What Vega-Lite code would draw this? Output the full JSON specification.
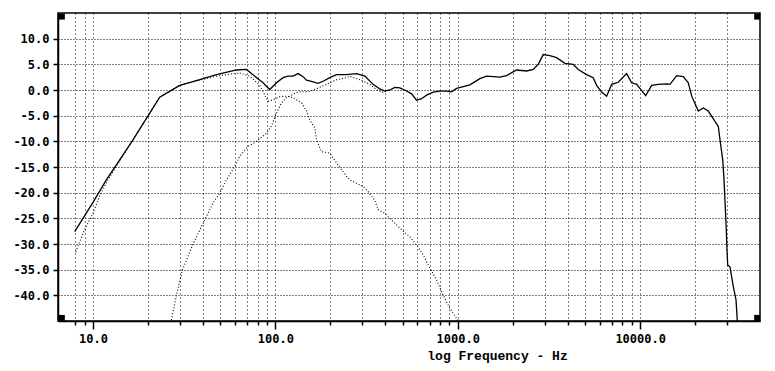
{
  "$schema": "https://vega.github.io/schema/vega-lite/v6.json",
  "width": 702,
  "height": 308,
  "autosize": {"type": "none"},
  "padding": {"left": 58, "top": 13, "right": 15, "bottom": 50},
  "background": "white",
  "config": {
    "view": {"stroke": "black", "strokeWidth": 1.5},
    "axis": {
      "domainColor": "black", "domainWidth": 1.5,
      "tickColor": "black", "tickWidth": 1.5,
      "gridColor": "black", "gridWidth": 1, "gridOpacity": 1,
      "labelColor": "black", "labelFont": "DejaVu Sans Mono", "labelFontWeight": "bold", "labelFontSize": 12,
      "titleColor": "black"
    }
  },
  "datasets": {
    "curves": [
      {"s": "total", "f": 7.94, "db": -27.6},
      {"s": "total", "f": 10, "db": -21.9},
      {"s": "total", "f": 11.84, "db": -17.5},
      {"s": "total", "f": 16.57, "db": -9.7},
      {"s": "total", "f": 23.22, "db": -1.4},
      {"s": "total", "f": 29.89, "db": 0.9},
      {"s": "total", "f": 38.48, "db": 2.0},
      {"s": "total", "f": 47.53, "db": 3.0},
      {"s": "total", "f": 61.18, "db": 3.9},
      {"s": "total", "f": 69.4, "db": 4.0},
      {"s": "total", "f": 77.1, "db": 2.7},
      {"s": "total", "f": 85.6, "db": 1.4},
      {"s": "total", "f": 93.2, "db": 0.1},
      {"s": "total", "f": 101.4, "db": 1.4},
      {"s": "total", "f": 110.2, "db": 2.4},
      {"s": "total", "f": 117.4, "db": 2.7},
      {"s": "total", "f": 125.1, "db": 2.7},
      {"s": "total", "f": 133.2, "db": 3.2},
      {"s": "total", "f": 141.9, "db": 2.6},
      {"s": "total", "f": 148.1, "db": 1.9},
      {"s": "total", "f": 157.8, "db": 1.7},
      {"s": "total", "f": 171.5, "db": 1.3},
      {"s": "total", "f": 182.7, "db": 1.7},
      {"s": "total", "f": 198.8, "db": 2.4},
      {"s": "total", "f": 216.4, "db": 3.0},
      {"s": "total", "f": 245.5, "db": 3.0},
      {"s": "total", "f": 278.5, "db": 3.2},
      {"s": "total", "f": 309.4, "db": 2.7},
      {"s": "total", "f": 343.5, "db": 1.1},
      {"s": "total", "f": 373.9, "db": 0.2},
      {"s": "total", "f": 398.2, "db": -0.2},
      {"s": "total", "f": 424.2, "db": 0.0},
      {"s": "total", "f": 451.9, "db": 0.5},
      {"s": "total", "f": 481.4, "db": 0.4},
      {"s": "total", "f": 524, "db": -0.2},
      {"s": "total", "f": 558, "db": -0.75},
      {"s": "total", "f": 594.3, "db": -2.0},
      {"s": "total", "f": 633, "db": -1.7},
      {"s": "total", "f": 674.5, "db": -1.0},
      {"s": "total", "f": 733, "db": -0.4},
      {"s": "total", "f": 797.6, "db": -0.2},
      {"s": "total", "f": 868, "db": -0.2},
      {"s": "total", "f": 924.7, "db": -0.35},
      {"s": "total", "f": 985, "db": 0.3},
      {"s": "total", "f": 1165, "db": 1.0},
      {"s": "total", "f": 1322, "db": 2.2},
      {"s": "total", "f": 1439, "db": 2.7},
      {"s": "total", "f": 1702, "db": 2.5},
      {"s": "total", "f": 1852, "db": 2.8},
      {"s": "total", "f": 2102, "db": 3.9},
      {"s": "total", "f": 2385, "db": 3.7},
      {"s": "total", "f": 2592, "db": 4.0},
      {"s": "total", "f": 2761, "db": 5.0},
      {"s": "total", "f": 2942, "db": 6.9},
      {"s": "total", "f": 3201, "db": 6.7},
      {"s": "total", "f": 3483, "db": 6.3},
      {"s": "total", "f": 3868, "db": 5.2},
      {"s": "total", "f": 4295, "db": 5.0},
      {"s": "total", "f": 4575, "db": 4.0},
      {"s": "total", "f": 5088, "db": 3.0},
      {"s": "total", "f": 5529, "db": 2.4},
      {"s": "total", "f": 5772, "db": 0.9},
      {"s": "total", "f": 6148, "db": -0.4},
      {"s": "total", "f": 6550, "db": -1.2},
      {"s": "total", "f": 6978, "db": 1.1},
      {"s": "total", "f": 7585, "db": 1.5},
      {"s": "total", "f": 8433, "db": 3.2},
      {"s": "total", "f": 8982, "db": 1.4},
      {"s": "total", "f": 9568, "db": 1.1},
      {"s": "total", "f": 10720, "db": -1.1},
      {"s": "total", "f": 11565, "db": 0.9},
      {"s": "total", "f": 12570, "db": 1.1},
      {"s": "total", "f": 13975, "db": 1.2},
      {"s": "total", "f": 14570, "db": 1.1},
      {"s": "total", "f": 15860, "db": 2.8},
      {"s": "total", "f": 17240, "db": 2.6},
      {"s": "total", "f": 18360, "db": 1.4},
      {"s": "total", "f": 19170, "db": -1.2},
      {"s": "total", "f": 20830, "db": -4.1},
      {"s": "total", "f": 22190, "db": -3.5},
      {"s": "total", "f": 23630, "db": -4.1},
      {"s": "total", "f": 26820, "db": -7.1},
      {"s": "total", "f": 27400, "db": -9.7},
      {"s": "total", "f": 28360, "db": -13.6},
      {"s": "total", "f": 28830, "db": -17.5},
      {"s": "total", "f": 29560, "db": -25.9},
      {"s": "total", "f": 29930, "db": -31.2},
      {"s": "total", "f": 30200, "db": -34.1},
      {"s": "total", "f": 31090, "db": -34.5},
      {"s": "total", "f": 32410, "db": -38.3},
      {"s": "total", "f": 33540, "db": -40.9},
      {"s": "total", "f": 34100, "db": -45.0},

      {"s": "lp", "f": 8.04, "db": -31.5},
      {"s": "lp", "f": 9.0, "db": -27.2},
      {"s": "lp", "f": 10, "db": -24.0},
      {"s": "lp", "f": 10.88, "db": -20.7},
      {"s": "lp", "f": 12.08, "db": -17.5},
      {"s": "lp", "f": 16.57, "db": -9.7},
      {"s": "lp", "f": 23.22, "db": -1.4},
      {"s": "lp", "f": 29.89, "db": 0.9},
      {"s": "lp", "f": 38.48, "db": 1.9},
      {"s": "lp", "f": 47.53, "db": 2.7},
      {"s": "lp", "f": 58.6, "db": 3.2},
      {"s": "lp", "f": 63.8, "db": 3.3},
      {"s": "lp", "f": 72.4, "db": 2.7},
      {"s": "lp", "f": 82.1, "db": 0.9},
      {"s": "lp", "f": 91.2, "db": -2.2},
      {"s": "lp", "f": 97.1, "db": -1.9},
      {"s": "lp", "f": 105.7, "db": -1.3},
      {"s": "lp", "f": 115.1, "db": -1.2},
      {"s": "lp", "f": 125.1, "db": -1.5},
      {"s": "lp", "f": 139.1, "db": -2.5},
      {"s": "lp", "f": 148.1, "db": -4.1},
      {"s": "lp", "f": 154.4, "db": -5.8},
      {"s": "lp", "f": 164.5, "db": -7.4},
      {"s": "lp", "f": 168.1, "db": -9.7},
      {"s": "lp", "f": 179.0, "db": -12.0},
      {"s": "lp", "f": 198.8, "db": -12.3},
      {"s": "lp", "f": 216.4, "db": -14.2},
      {"s": "lp", "f": 245.5, "db": -16.8},
      {"s": "lp", "f": 255.9, "db": -17.5},
      {"s": "lp", "f": 302.8, "db": -18.8},
      {"s": "lp", "f": 322.5, "db": -19.8},
      {"s": "lp", "f": 351.1, "db": -21.5},
      {"s": "lp", "f": 365.9, "db": -23.3},
      {"s": "lp", "f": 398.2, "db": -24.0},
      {"s": "lp", "f": 424.2, "db": -25.0},
      {"s": "lp", "f": 481.4, "db": -26.9},
      {"s": "lp", "f": 546, "db": -28.6},
      {"s": "lp", "f": 594.3, "db": -30.2},
      {"s": "lp", "f": 646, "db": -32.1},
      {"s": "lp", "f": 703, "db": -34.7},
      {"s": "lp", "f": 765, "db": -37.0},
      {"s": "lp", "f": 832, "db": -40.0},
      {"s": "lp", "f": 905, "db": -42.5},
      {"s": "lp", "f": 985, "db": -44.5},
      {"s": "lp", "f": 1010, "db": -45.0},

      {"s": "hp", "f": 26.9, "db": -44.8},
      {"s": "hp", "f": 28.67, "db": -40.0},
      {"s": "hp", "f": 30.93, "db": -35.1},
      {"s": "hp", "f": 35.37, "db": -30.0},
      {"s": "hp", "f": 41.0, "db": -25.3},
      {"s": "hp", "f": 45.5, "db": -22.0},
      {"s": "hp", "f": 49.5, "db": -20.1},
      {"s": "hp", "f": 53.9, "db": -17.5},
      {"s": "hp", "f": 59.9, "db": -14.9},
      {"s": "hp", "f": 63.8, "db": -12.9},
      {"s": "hp", "f": 70.8, "db": -11.0},
      {"s": "hp", "f": 78.8, "db": -10.0},
      {"s": "hp", "f": 89.4, "db": -8.4},
      {"s": "hp", "f": 95.2, "db": -7.0},
      {"s": "hp", "f": 101.4, "db": -4.5},
      {"s": "hp", "f": 108.0, "db": -2.5},
      {"s": "hp", "f": 115.1, "db": -1.5},
      {"s": "hp", "f": 122.6, "db": -1.0},
      {"s": "hp", "f": 130.5, "db": -0.5},
      {"s": "hp", "f": 136.1, "db": -0.35},
      {"s": "hp", "f": 154.4, "db": -0.3},
      {"s": "hp", "f": 171.5, "db": 0.4},
      {"s": "hp", "f": 190.7, "db": 1.1},
      {"s": "hp", "f": 216.4, "db": 2.0},
      {"s": "hp", "f": 245.5, "db": 2.4},
      {"s": "hp", "f": 255.9, "db": 2.7},
      {"s": "hp", "f": 290.4, "db": 2.0},
      {"s": "hp", "f": 329.4, "db": 1.1},
      {"s": "hp", "f": 358.6, "db": 0.1},
      {"s": "hp", "f": 382, "db": -0.5},
      {"s": "hp", "f": 406.8, "db": -0.2},
      {"s": "hp", "f": 424.2, "db": 0.0}
    ],
    "corners": [
      {"f": 6.75, "db": 14.3},
      {"f": 43800, "db": 14.3},
      {"f": 6.75, "db": -44.4},
      {"f": 43800, "db": -44.4}
    ]
  },
  "encoding": {
    "x": {
      "field": "f", "type": "quantitative",
      "scale": {"type": "log", "domain": [6.43, 45400], "nice": false},
      "axis": {
        "values": [8, 9, 10, 20, 30, 40, 50, 60, 70, 80, 90, 100, 200, 300, 400, 500, 600, 700, 800, 900, 1000, 2000, 3000, 4000, 5000, 6000, 7000, 8000, 9000, 10000, 20000, 30000],
        "grid": true,
        "gridDash": [1, 3],
        "tickSize": {"condition": {"test": "datum.value == 10 || datum.value == 100 || datum.value == 1000 || datum.value == 10000", "value": 8}, "value": 4},
        "labelExpr": "(datum.value == 10 || datum.value == 100 || datum.value == 1000 || datum.value == 10000) ? format(datum.value, '.1f') : ''",
        "labelOverlap": false,
        "labelFlush": false,
        "labelPadding": 4,
        "title": "log Frequency - Hz",
        "titleFont": "Liberation Mono",
        "titleFontWeight": "bold",
        "titleFontSize": 13,
        "titleX": 439,
        "titleY": 34,
        "titleAlign": "center",
        "titleBaseline": "middle"
      }
    },
    "y": {
      "field": "db", "type": "quantitative",
      "scale": {"domain": [-45, 15], "nice": false, "zero": false},
      "axis": {
        "values": [-40, -35, -30, -25, -20, -15, -10, -5, 0, 5, 10],
        "grid": true,
        "gridDash": [1, 2],
        "tickSize": 5,
        "labelPadding": 4,
        "labelExpr": "(datum.value < 0 ? '-' : '') + format(abs(datum.value), '.1f')",
        "title": null
      }
    }
  },
  "layer": [
    {
      "data": {"name": "curves"},
      "transform": [{"filter": "datum.s == 'lp'"}],
      "mark": {"type": "line", "color": "black", "strokeWidth": 1.1, "strokeDash": [1, 2], "clip": true},
      "encoding": {"order": {"field": "f", "type": "quantitative"}}
    },
    {
      "data": {"name": "curves"},
      "transform": [{"filter": "datum.s == 'hp'"}],
      "mark": {"type": "line", "color": "black", "strokeWidth": 1.1, "strokeDash": [1, 2], "clip": true},
      "encoding": {"order": {"field": "f", "type": "quantitative"}}
    },
    {
      "data": {"name": "curves"},
      "transform": [{"filter": "datum.s == 'total'"}],
      "mark": {"type": "line", "color": "black", "strokeWidth": 1.3, "clip": true},
      "encoding": {"order": {"field": "f", "type": "quantitative"}}
    },
    {
      "data": {"name": "corners"},
      "mark": {"type": "square", "color": "black", "filled": true, "opacity": 1, "size": 36}
    }
  ]
}
